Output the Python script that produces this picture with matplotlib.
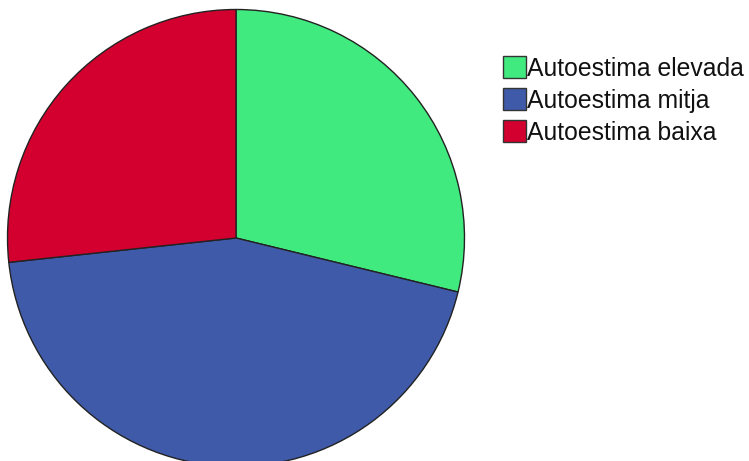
import matplotlib.pyplot as plt
from matplotlib.patches import Rectangle

labels = ['Autoestima elevada', 'Autoestima mitja', 'Autoestima baixa']
values = [28.8, 44.5, 26.7]
colors = ['#40EA7E', '#3F5AA9', '#D3002F']

W, H = 749, 461
fig = plt.figure(figsize=(W / 100, H / 100), dpi=100)

# pie: center (236, 238) px, radius ~228.5 px
cx, cy, r = 236, 238, 228.5
ax = fig.add_axes([(cx - r) / W, (H - cy - r) / H, 2 * r / W, 2 * r / H])
ax.pie(values, colors=colors, startangle=90, counterclock=False,
       wedgeprops={'edgecolor': '#222222', 'linewidth': 1.0})
ax.set_xlim(-1, 1)
ax.set_ylim(-1, 1)
ax.set_aspect('equal')
ax.axis('off')

# legend drawn by hand
for i, (lab, col) in enumerate(zip(labels, colors)):
    top = 56 + i * 32
    fig.add_artist(Rectangle((503 / W, (H - top - 22) / H), 23 / W, 22 / H,
                             facecolor=col, edgecolor='#333333', linewidth=1,
                             transform=fig.transFigure))
    fig.text(527 / W, (H - top - 13) / H, lab, fontsize=17.8,
             family='Liberation Sans', va='center', ha='left', color='#111111')

fig.savefig('out.png', dpi=100)
